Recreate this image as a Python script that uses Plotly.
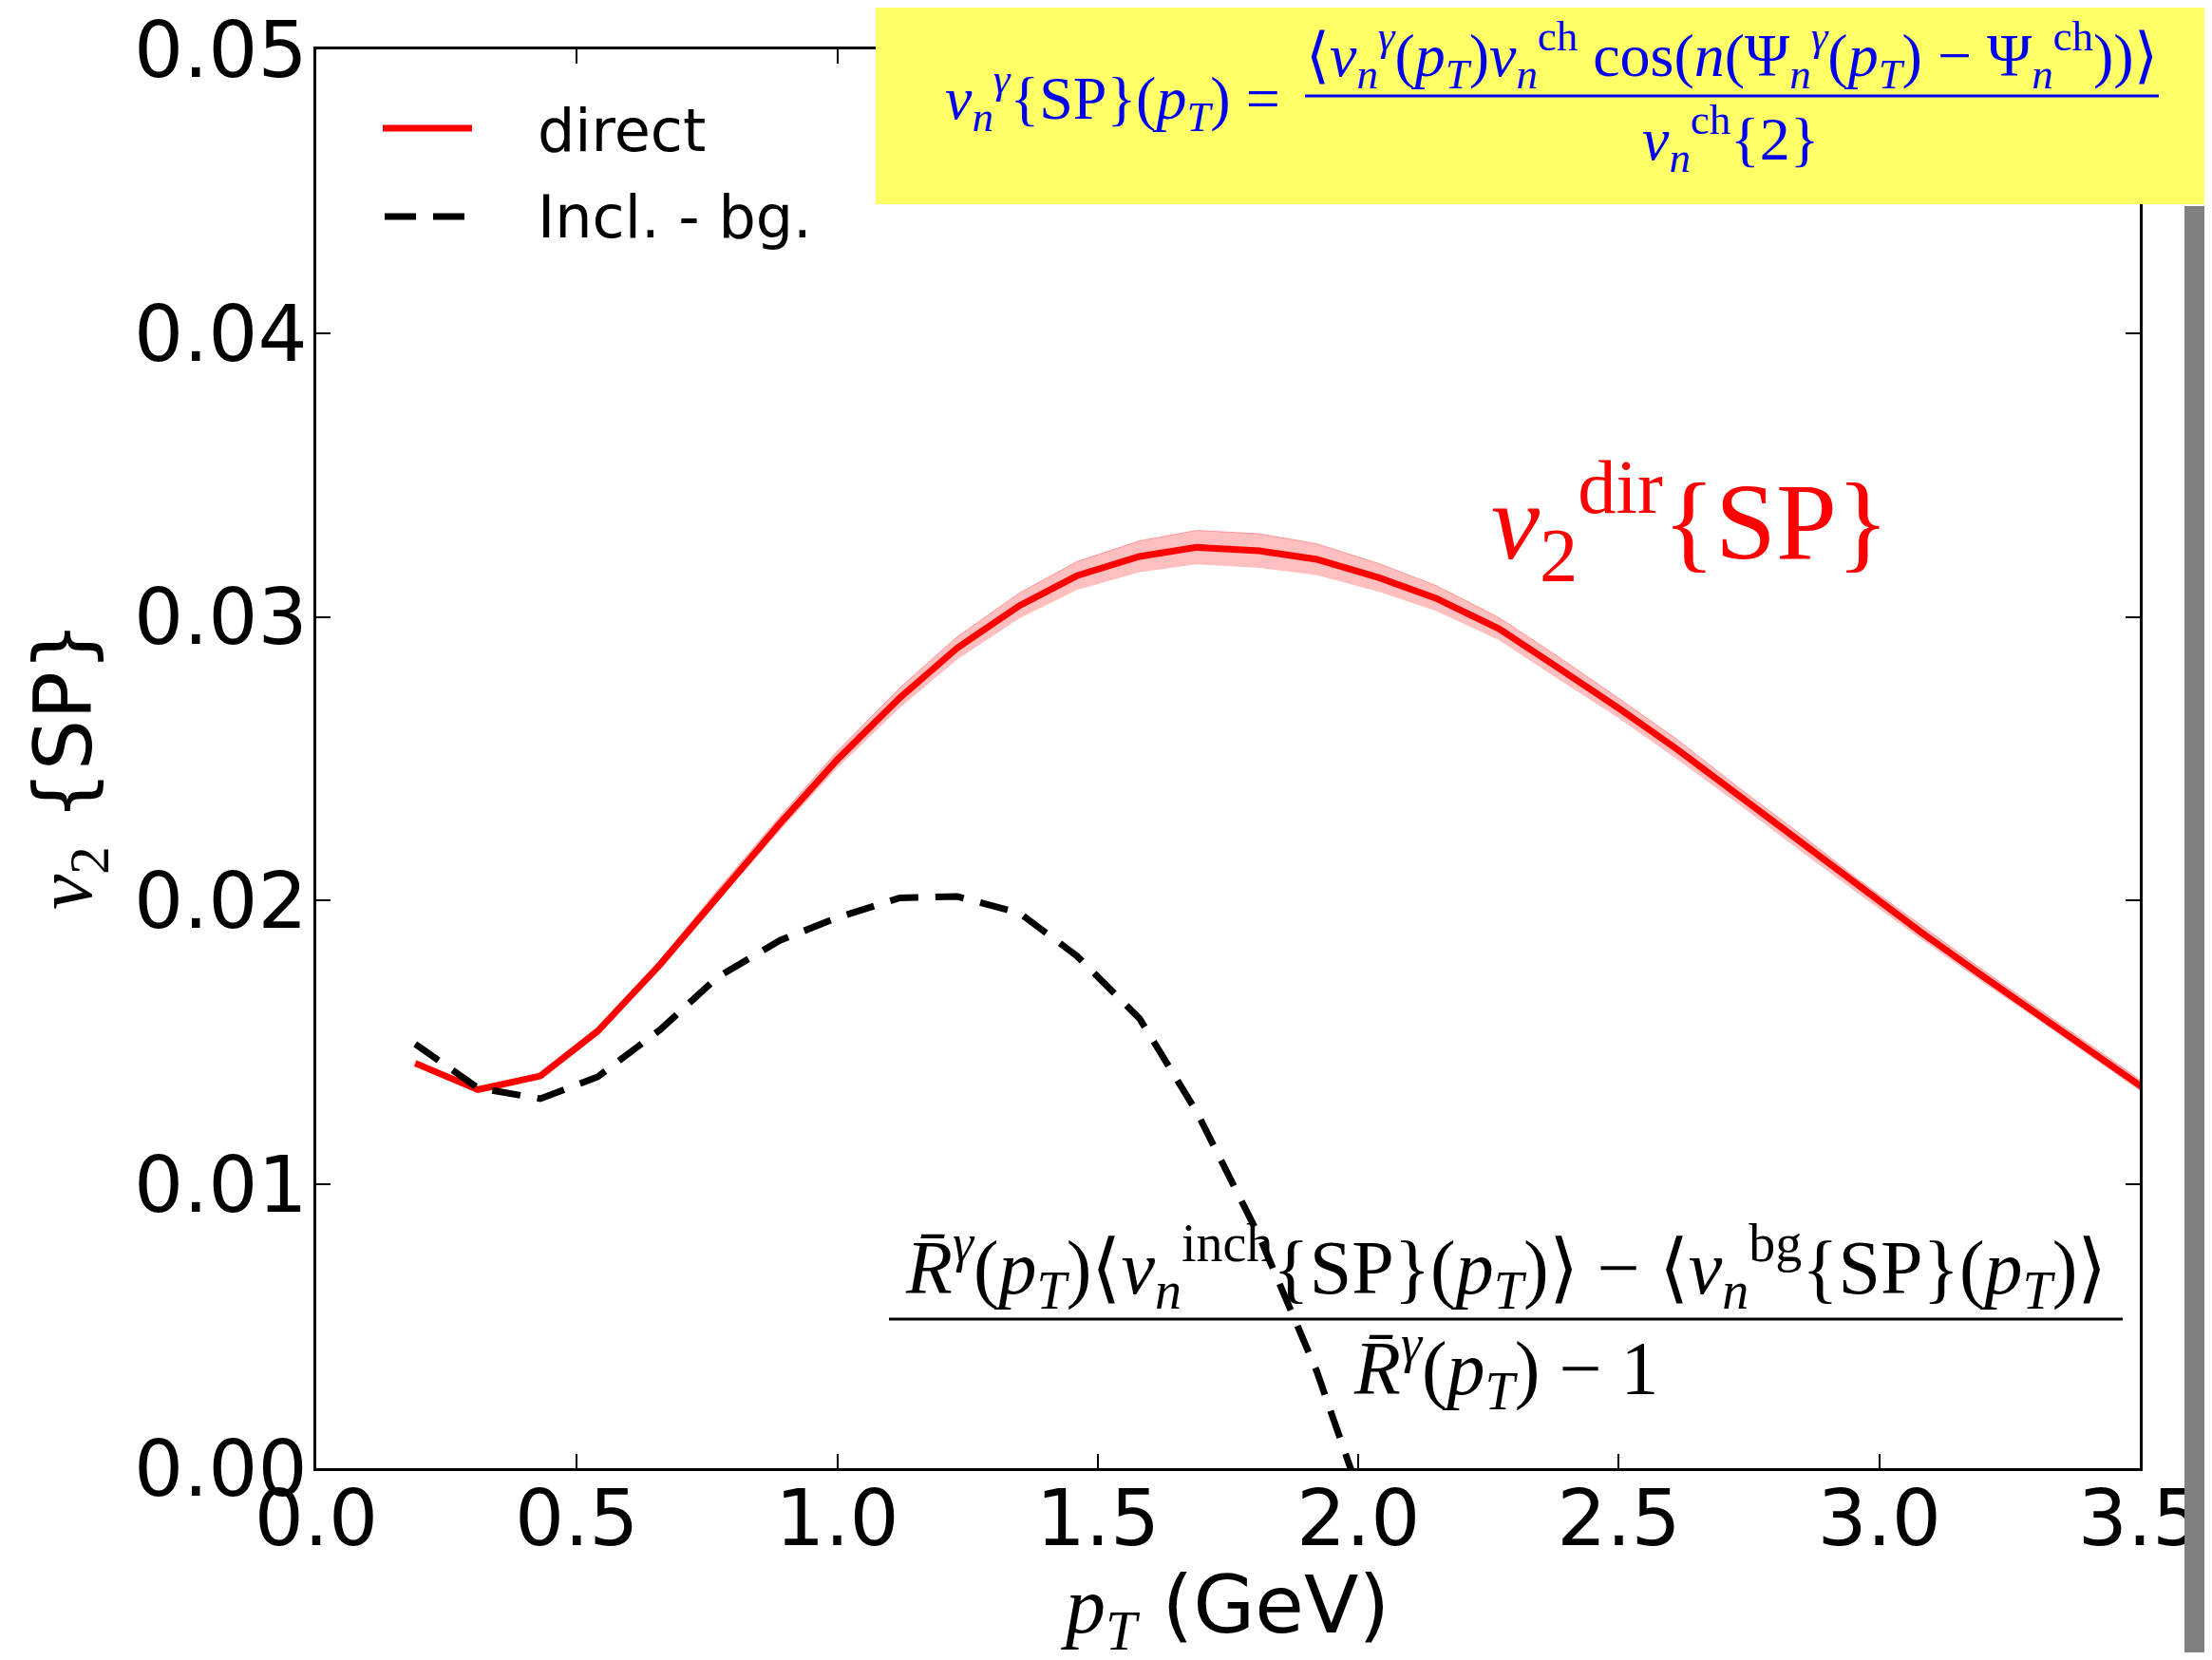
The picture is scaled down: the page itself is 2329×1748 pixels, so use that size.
import plotly.graph_objects as go

# ---------------- data ----------------
pt = [0.19, 0.31, 0.43, 0.54, 0.66, 0.77, 0.89, 1.00, 1.12, 1.23,
      1.35, 1.46, 1.58, 1.69, 1.81, 1.92, 2.04, 2.15, 2.27, 2.38,
      2.50, 2.61, 2.73, 2.85, 2.96, 3.08, 3.19, 3.31, 3.42, 3.54]

v2_direct = [0.01427, 0.01334, 0.01382, 0.01540, 0.01775, 0.02017, 0.02272, 0.02497, 0.02715, 0.02890,
             0.03040, 0.03145, 0.03213, 0.03245, 0.03233, 0.03203, 0.03138, 0.03065, 0.02958, 0.02825,
             0.02678, 0.02536, 0.02369, 0.02203, 0.02049, 0.01889, 0.01745, 0.01593, 0.01452, 0.01298]

v2_direct_err = [0.00010, 0.00010, 0.00010, 0.00012, 0.00015, 0.00020, 0.00025, 0.00030, 0.00035, 0.00040,
                 0.00045, 0.00050, 0.00055, 0.00060, 0.00060, 0.00055, 0.00050, 0.00045, 0.00040, 0.00040,
                 0.00035, 0.00035, 0.00030, 0.00030, 0.00025, 0.00025, 0.00022, 0.00020, 0.00020, 0.00020]

pt_incl = [0.19, 0.31, 0.43, 0.54, 0.66, 0.77, 0.89, 1.00, 1.12, 1.23,
           1.35, 1.46, 1.58, 1.69, 1.81, 1.92, 2.04]
v2_incl_bg = [0.01495, 0.01340, 0.01302, 0.01379, 0.01545, 0.01730, 0.01860, 0.01940, 0.02010, 0.02015,
              0.01956, 0.01805, 0.01585, 0.01255, 0.00817, 0.00343, -0.00290]

x_ticks = [0.0, 0.5, 1.0, 1.5, 2.0, 2.5, 3.0, 3.5]
y_ticks = [0.00, 0.01, 0.02, 0.03, 0.04, 0.05]

series_names = ["direct", "Incl. - bg."]

# ---------------- geometry helpers (screen pixels; page body has an 8px margin) ----------------
OFF = 8
FW, FH = 2329 - 2 * OFF, 1748 - 2 * OFF
L, R, T, B = 333, 2253, 52, 1546   # plot area in screen pixels


def px(x):
    return (x - L) / (R - L)


def py(y):
    return (B - y) / (B - T)


RED = "#ff0000"
BLUE = "#0000ee"
SERIF = "Liberation Serif"
SANS = "DejaVu Sans"

fig = go.Figure()

upper = [v + e for v, e in zip(v2_direct, v2_direct_err)]
lower = [v - e for v, e in zip(v2_direct, v2_direct_err)]

fig.add_trace(go.Scatter(x=pt, y=lower, mode="lines", line=dict(width=0, color="rgba(255,0,0,0)"),
                         showlegend=False, hoverinfo="skip"))
fig.add_trace(go.Scatter(x=pt, y=upper, mode="lines", line=dict(width=1, color="rgba(255,0,0,0.3)"),
                         fill="tonexty", fillcolor="rgba(255,0,0,0.25)", showlegend=False, hoverinfo="skip"))
fig.add_trace(go.Scatter(x=pt, y=v2_direct, mode="lines", name=series_names[0],
                         line=dict(color=RED, width=7), showlegend=False))
fig.add_trace(go.Scatter(x=pt_incl, y=v2_incl_bg, mode="lines", name=series_names[1],
                         line=dict(color="black", width=7, dash="30px,18px"), showlegend=False))

axis_common = dict(
    showline=True, linecolor="black", linewidth=3, mirror="allticks",
    ticks="inside", ticklen=15, tickwidth=2, tickcolor="black",
    showgrid=False, zeroline=False, ticklabeloverflow="allow",
    tickfont=dict(family=SANS, size=82, color="black"),
)

fig.update_xaxes(range=[0, 3.5], tickvals=x_ticks, ticktext=[f"{v:.1f}" for v in x_ticks],
                 ticklabelstandoff=-20, **axis_common)
fig.update_yaxes(range=[0, 0.05], tickvals=y_ticks, ticktext=[f"{v:.2f}" for v in y_ticks],
                 ticklabelstandoff=-10, **axis_common)

shapes = []
# yellow formula box and grey side bar (above axes)
shapes.append(dict(type="rect", xref="paper", yref="paper", layer="above",
                   x0=px(922), x1=px(2345), y0=py(215), y1=py(-10),
                   fillcolor="#ffff66", line=dict(width=0)))
shapes.append(dict(type="rect", xref="paper", yref="paper", layer="above",
                   x0=px(2300), x1=px(2345), y0=py(1760), y1=py(217),
                   fillcolor="#808080", line=dict(width=0)))
# fraction bars
shapes.append(dict(type="line", xref="paper", yref="paper", layer="above",
                   x0=px(1374), x1=px(2273), y0=py(101), y1=py(101),
                   line=dict(color=BLUE, width=3)))
shapes.append(dict(type="line", xref="paper", yref="paper", layer="above",
                   x0=px(936), x1=px(2235), y0=py(1389), y1=py(1389),
                   line=dict(color="black", width=3)))
# legend samples
shapes.append(dict(type="line", xref="paper", yref="paper", layer="above",
                   x0=px(403), x1=px(497), y0=py(135), y1=py(135),
                   line=dict(color=RED, width=7)))
shapes.append(dict(type="line", xref="paper", yref="paper", layer="above",
                   x0=px(405), x1=px(493), y0=py(228), y1=py(228),
                   line=dict(color="black", width=7, dash="33px,18px")))
fig.update_layout(shapes=shapes)


def ann(x, y, text, size, color="black", family=SERIF, xanchor="center", yanchor="middle", angle=0):
    fig.add_annotation(xref="paper", yref="paper", x=px(x), y=py(y), text=text, showarrow=False,
                       xanchor=xanchor, yanchor=yanchor, textangle=angle,
                       font=dict(family=family, size=size, color=color))


i = lambda s: f"<i>{s}</i>"
pT = f"{i('p')}<sub>{i('T')}</sub>"

# legend texts
ann(564, 137, series_names[0], 62, family=SANS, xanchor="left")
ann(564, 228, series_names[1], 62, family=SANS, xanchor="left")

# axis titles
ann(1290, 1696, f'<span style="font-family:{SERIF}">{pT}</span> (GeV)', 84, family=SANS)
ann(72, 806, f'<span style="font-family:{SERIF}">{i("v")}<sub>2</sub></span> {{SP}}', 84,
    family=SANS, angle=-90)

# red curve label
ann(1779, 548, f"{i('v')}<sub>2</sub><sup>dir</sup>{{SP}}", 115, color=RED)

# top formula (blue)
lhs = f"{i('v')}<sub>{i('n')}</sub><sup>{i('γ')}</sup>{{SP}}({pT}) ="
num = (f"⟨{i('v')}<sub>{i('n')}</sub><sup>{i('γ')}</sup>({pT}){i('v')}<sub>{i('n')}</sub><sup>ch</sup> "
       f"cos({i('n')}(Ψ<sub>{i('n')}</sub><sup>{i('γ')}</sup>({pT}) − Ψ<sub>{i('n')}</sub><sup>ch</sup>))⟩")
den = f"{i('v')}<sub>{i('n')}</sub><sup>ch</sup>{{2}}"
ann(1350, 103, lhs, 64, color=BLUE, xanchor="right")
ann(1823, 58, num, 64, color=BLUE)
ann(1822, 146, den, 64, color=BLUE)

# bottom formula (black)
Rg = f"{i('R̄')}<sup>{i('γ')}</sup>"
num2 = (f"{Rg}({pT})⟨{i('v')}<sub>{i('n')}</sub><sup>inch</sup>{{SP}}({pT})⟩ − "
        f"⟨{i('v')}<sub>{i('n')}</sub><sup>bg</sup>{{SP}}({pT})⟩")
den2 = f"{Rg}({pT}) − 1"
ann(1585, 1334, num2, 80)
ann(1586, 1440, den2, 80)

fig.update_layout(
    width=FW, height=FH,
    margin=dict(l=L - OFF, r=FW - (R - OFF), t=T - OFF, b=FH - (B - OFF), autoexpand=False),
    paper_bgcolor="white", plot_bgcolor="white",
    showlegend=False,
)

fig.write_html("out.html")
